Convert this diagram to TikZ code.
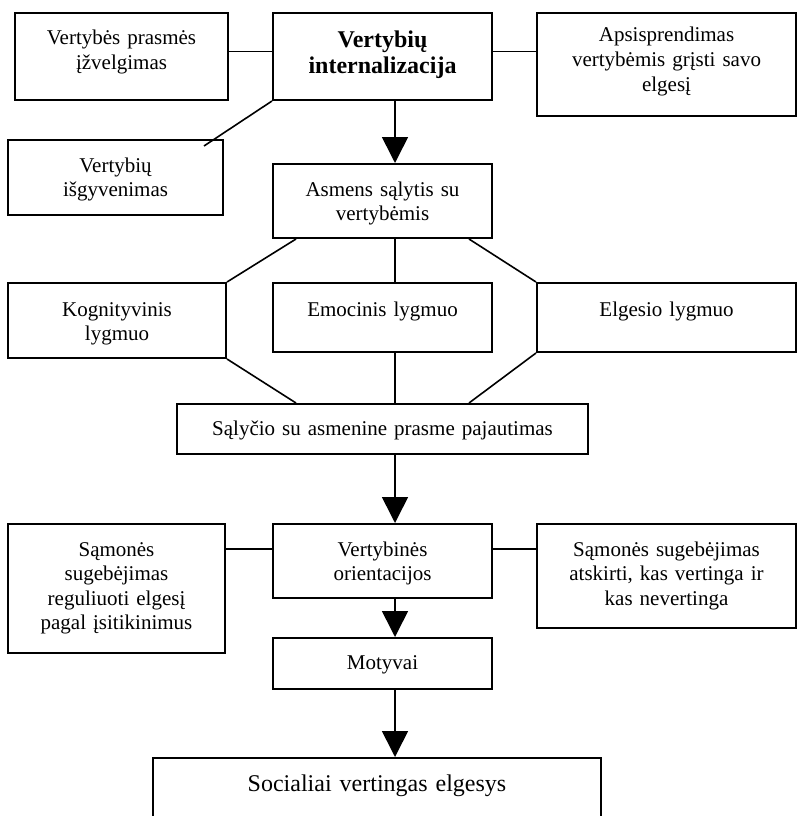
\documentclass[tikz,border=0pt]{standalone}
\usepackage{fontspec}
\setmainfont{Liberation Serif}
\usetikzlibrary{arrows.meta,calc}

\begin{document}
\begin{tikzpicture}[x=1pt,y=-1pt,>={Triangle[length=26pt,width=26pt]},
box/.style={draw,line width=2pt,anchor=north,inner sep=0pt,align=center,text height=32pt,font=\fontsize{21}{24.5}\selectfont},
link/.style={line width=1.6pt}]
\useasboundingbox (0,0) rectangle (797,816);
\clip (0,0) rectangle (797,816);

\coordinate(axis) at (395,0);

% top row
\node(prasm)[box,text width=213pt,text depth=55pt]at (121.5,12){Vertybės prasmės\\įžvelgimas};
\node(intern)[box,text width=219pt,text height=35pt,text depth=52pt,font=\fontsize{24}{26}\selectfont\bfseries]at (382.5,12){Vertybių\\internalizacija};
\node(apsis)[box,text width=259pt,text height=29pt,text depth=74pt]at (666.5,12){Apsisprendimas\\vertybėmis grįsti savo\\elgesį};
\node(isgyv)[box,text width=215pt,text depth=43pt]at (115.5,139){Vertybių\\išgyvenimas};
\node(asmens)[box,text width=219pt,text depth=42pt]at (382.5,163){Asmens sąlytis su\\vertybėmis};

% levels
\node(kogn)[box,text width=218pt,text height=33pt,text depth=42pt]at (117,282){Kognityvinis\\lygmuo};
\node(emoc)[box,text width=219pt,text height=33pt,text depth=36pt]at (382.5,282){Emocinis lygmuo};
\node(elges)[box,text width=259pt,text height=33pt,text depth=36pt]at (666.5,282){Elgesio lygmuo};
\node(salyc)[box,text width=411pt,text height=31pt,text depth=19pt]at (382.5,403){Sąlyčio su asmenine prasme pajautimas};

% orientations
\node(vorient)[box,text width=219pt,text depth=42pt]at (382.5,523){Vertybinės\\orientacijos};
\node(regul)[box,text width=217pt,text depth=97pt]at (116.5,523){Sąmonės\\sugebėjimas\\reguliuoti elgesį\\pagal įsitikinimus};
\node(atsk)[box,text width=259pt,text depth=72pt]at (666.5,523){Sąmonės sugebėjimas\\atskirti, kas vertinga ir\\kas nevertinga};
\node(motyv)[box,text width=219pt,text height=31pt,text depth=20pt]at (382.5,637){Motyvai};
\node(soc)[box,text width=448pt,text height=33pt,text depth=80pt,font=\fontsize{24}{28}\selectfont]at (377,757){Socialiai vertingas elgesys};

\draw[link]([yshift=5pt]intern.west)coordinate(i1)--(i1-|prasm.east);
\draw[link]([yshift=5pt]intern.east)coordinate(i2)--(i2-|apsis.west);
\draw[link](intern.south west)--($(isgyv.north east)+(-20,7)$);
\draw[link,->](intern.south-|axis)--(asmens.north-|axis);

\draw[link]($(asmens.south west)+(24,0)$)--(kogn.north east);
\draw[link](asmens.south-|axis)--(emoc.north-|axis);
\draw[link]($(asmens.south east)+(-24,0)$)--(elges.north west);
\draw[link](kogn.south east)--($(salyc.north west)+(120,0)$);
\draw[link](emoc.south-|axis)--(salyc.north-|axis);
\draw[link](elges.south west)--($(salyc.north east)+(-120,0)$);
\draw[link,->](salyc.south-|axis)--(vorient.north-|axis);

\draw[link]([yshift=12pt]vorient.west)coordinate(v1)--(v1-|regul.east);
\draw[link]([yshift=12pt]vorient.east)coordinate(v2)--(v2-|atsk.west);
\draw[link,->](vorient.south-|axis)--(motyv.north-|axis);
\draw[link,->](motyv.south-|axis)--(soc.north-|axis);

\end{tikzpicture}
\end{document}
